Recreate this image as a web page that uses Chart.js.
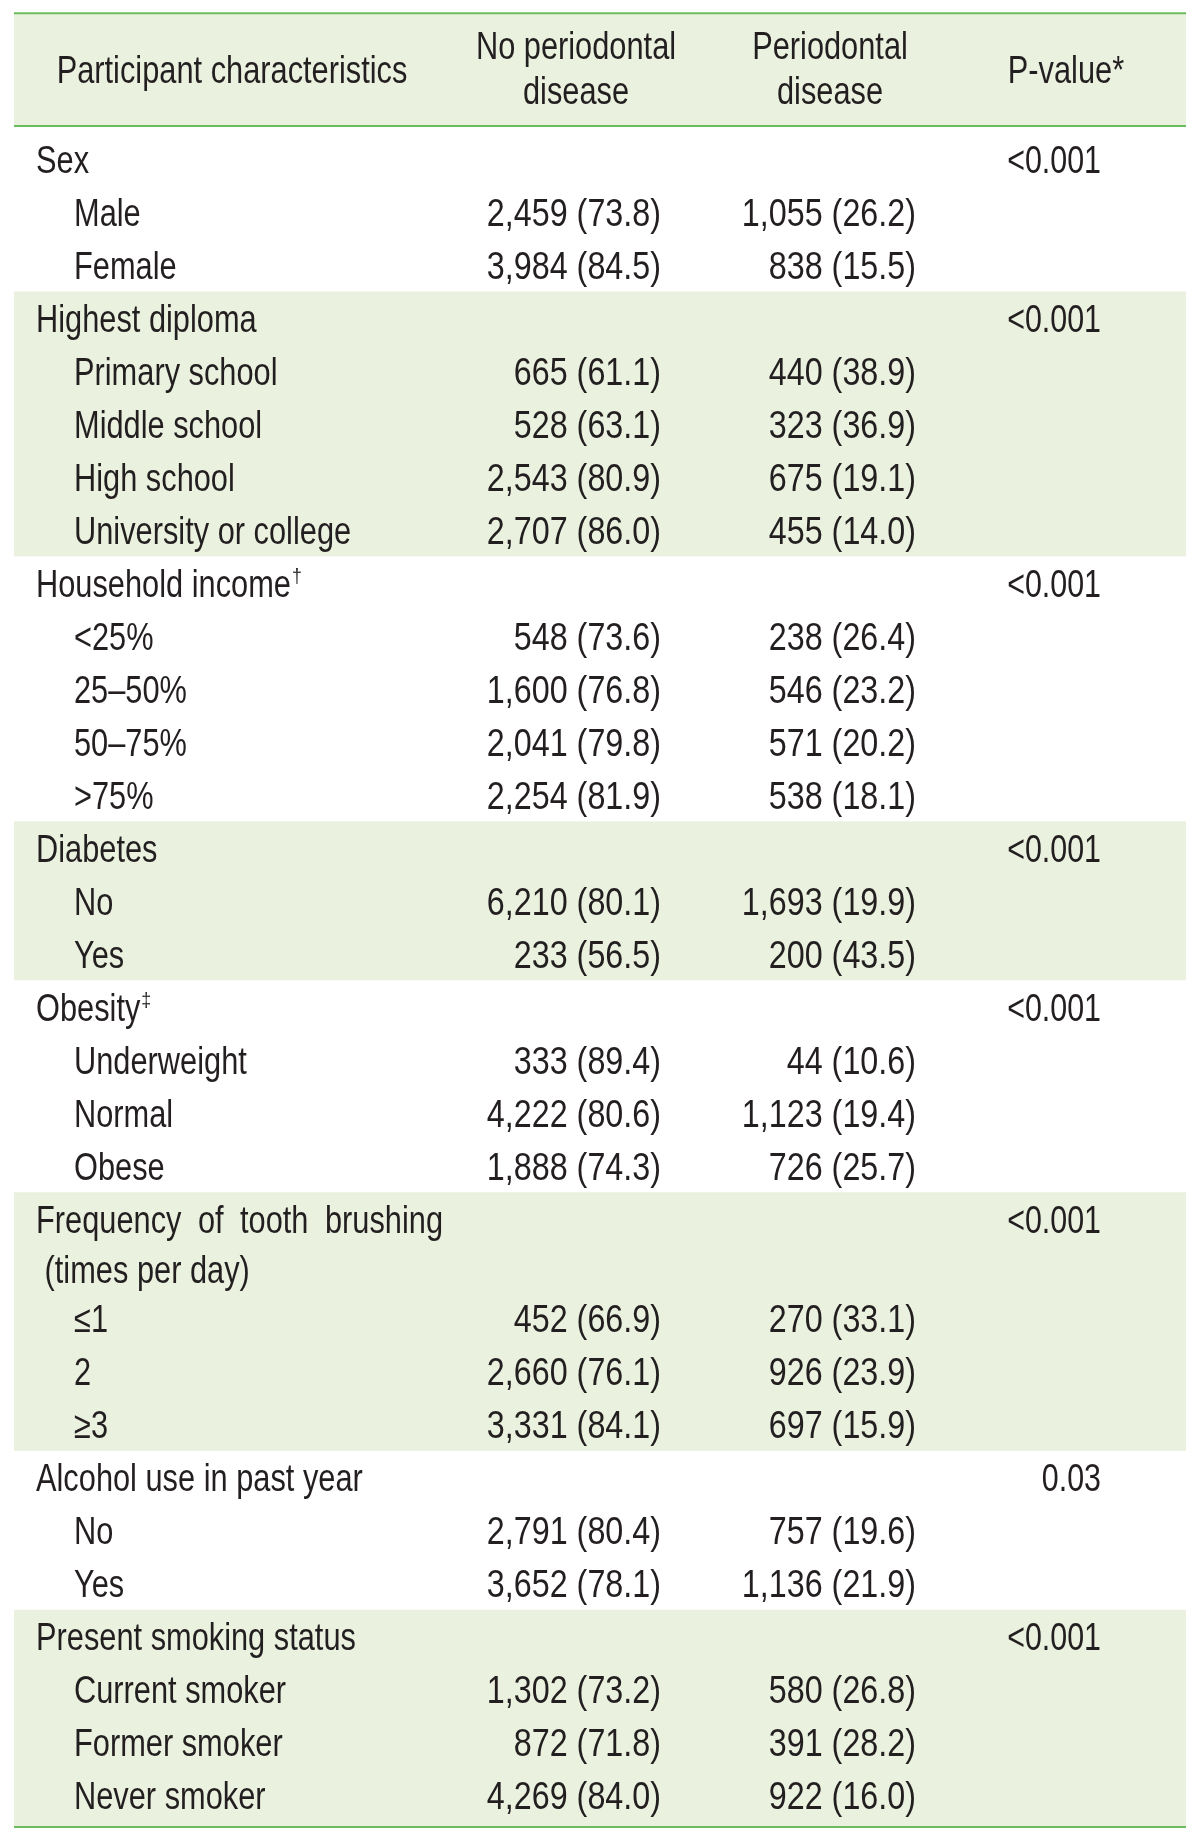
<!DOCTYPE html>
<html>
<head>
<meta charset="utf-8">
<script src="https://cdn.jsdelivr.net/npm/chart.js@4"></script>
<style>
    body { margin: 0; background: #ffffff; }
    #wrap { width: 1200px; height: 1844px; }
</style>
</head>
<body>
<div id="wrap"><canvas id="tableChart" width="1200" height="1844"></canvas></div>
<script>
const columnHeaders = [['Participant characteristics'], ['No periodontal', 'disease'], ['Periodontal', 'disease'], ['P-value*']];

const groupNames = [
    ['Sex'],
    ['Highest diploma'],
    ['Household income'],
    ['Diabetes'],
    ['Obesity'],
    ['Frequency of tooth brushing', ' (times per day)'],
    ['Alcohol use in past year'],
    ['Present smoking status']
];
const groupMarks = ['', '', '\u2020', '', '\u2021', '', '', ''];
const groupPValues = ['<0.001', '<0.001', '<0.001', '<0.001', '<0.001', '<0.001', '0.03', '<0.001'];

const subgroupNames = [
    ['Male', 'Female'],
    ['Primary school', 'Middle school', 'High school', 'University or college'],
    ['<25%', '25\u201350%', '50\u201375%', '>75%'],
    ['No', 'Yes'],
    ['Underweight', 'Normal', 'Obese'],
    ['\u22641', '2', '\u22653'],
    ['No', 'Yes'],
    ['Current smoker', 'Former smoker', 'Never smoker']
];

const noDiseaseN = [
    [2459, 3984],
    [665, 528, 2543, 2707],
    [548, 1600, 2041, 2254],
    [6210, 233],
    [333, 4222, 1888],
    [452, 2660, 3331],
    [2791, 3652],
    [1302, 872, 4269]
];
const noDiseasePct = [
    [73.8, 84.5],
    [61.1, 63.1, 80.9, 86.0],
    [73.6, 76.8, 79.8, 81.9],
    [80.1, 56.5],
    [89.4, 80.6, 74.3],
    [66.9, 76.1, 84.1],
    [80.4, 78.1],
    [73.2, 71.8, 84.0]
];
const diseaseN = [
    [1055, 838],
    [440, 323, 675, 455],
    [238, 546, 571, 538],
    [1693, 200],
    [44, 1123, 726],
    [270, 926, 697],
    [757, 1136],
    [580, 391, 922]
];
const diseasePct = [
    [26.2, 15.5],
    [38.9, 36.9, 19.1, 14.0],
    [26.4, 23.2, 20.2, 18.1],
    [19.9, 43.5],
    [10.6, 19.4, 25.7],
    [33.1, 23.9, 15.9],
    [19.6, 21.9],
    [26.8, 28.2, 16.0]
];

// layout (x in page pixels, y in row units)
const tableLeft = 14, tableRight = 1186;
const labelX = 36, subLabelX = 74, justifyWidth = 407;
const headerCenters = [232, 576, 830, 1066];
const headerLines = [-2.145, -1.31];
const headerSingle = -1.69;
const col2Right = 661, col3Right = 916, pRight = 1101;
const wrapStep = 0.94;
const textColor = '#231f20';
const bandColor = '#eaf2df';
const ruleColor = '#6cbd5b';
const fontFamily = '"Liberation Sans", Arimo, Arial, sans-serif';
const fontSize = 38;
const baselineShift = 14;
const labelSqueeze = 0.81;   // condensed look
const numberSqueeze = 0.85;
const pSqueeze = 0.8;

function fmt(n, p) {
    return n.toLocaleString('en-US') + ' (' + p.toFixed(1) + ')';
}

// work out row positions
const rows = [];
const bands = [];
let pos = 0;
groupNames.forEach(function (lines, g) {
    const start = pos;
    rows.push({ y: pos, text: lines[0], x: labelX, mark: groupMarks[g], p: groupPValues[g], justify: lines.length > 1 });
    for (let k = 1; k < lines.length; k++) {
        pos += wrapStep;
        rows.push({ y: pos, text: lines[k], x: labelX });
    }
    pos += lines.length > 1 ? wrapStep : 1;
    subgroupNames[g].forEach(function (name, i) {
        rows.push({
            y: pos, text: name, x: subLabelX,
            c2: fmt(noDiseaseN[g][i], noDiseasePct[g][i]),
            c3: fmt(diseaseN[g][i], diseasePct[g][i])
        });
        pos += 1;
    });
    bands.push({ from: start - 0.5, to: pos - 0.5, green: g % 2 === 1 });
});
const lastRow = pos - 1;
const topRule = -2.75, headRule = -0.62, bottomRule = lastRow + 0.6;
bands[0].from = headRule;
bands[bands.length - 1].to = bottomRule;

function put(ctx, text, x, y, align, sx) {
    ctx.save();
    ctx.translate(x, y);
    ctx.scale(sx, 1);
    ctx.textAlign = align;
    ctx.fillText(text, 0, 0);
    ctx.restore();
}

function putJustified(ctx, text, x, y, width) {
    const words = text.split(' ');
    let total = 0;
    words.forEach(function (w) { total += ctx.measureText(w).width * labelSqueeze; });
    const gap = (width - total) / (words.length - 1);
    let cx = x;
    words.forEach(function (w) {
        put(ctx, w, cx, y, 'left', labelSqueeze);
        cx += ctx.measureText(w).width * labelSqueeze + gap;
    });
}

const tablePlugin = {
    id: 'tablePlugin',
    beforeDatasetsDraw(chart) {
        const ctx = chart.ctx;
        const xs = chart.scales.x, ys = chart.scales.y;
        const L = xs.getPixelForValue(tableLeft), R = xs.getPixelForValue(tableRight);
        const font = fontSize + 'px ' + fontFamily;
        ctx.save();
        // header band and group bands
        ctx.fillStyle = bandColor;
        ctx.fillRect(L, ys.getPixelForValue(topRule), R - L, ys.getPixelForValue(headRule) - ys.getPixelForValue(topRule));
        bands.forEach(function (b) {
            if (!b.green) return;
            const t = ys.getPixelForValue(b.from), bt = ys.getPixelForValue(b.to);
            ctx.fillRect(L, t, R - L, bt - t);
        });
        // rules
        ctx.strokeStyle = ruleColor;
        ctx.lineWidth = 2;
        [topRule, headRule, bottomRule].forEach(function (r) {
            const y = ys.getPixelForValue(r);
            ctx.beginPath();
            ctx.moveTo(L, y);
            ctx.lineTo(R, y);
            ctx.stroke();
        });
        // header text
        ctx.fillStyle = textColor;
        ctx.font = font;
        ctx.textBaseline = 'alphabetic';
        columnHeaders.forEach(function (lines, c) {
            const cx = xs.getPixelForValue(headerCenters[c]);
            if (lines.length === 1) {
                put(ctx, lines[0], cx, ys.getPixelForValue(headerSingle) + baselineShift, 'center', labelSqueeze);
            } else {
                lines.forEach(function (t, k) {
                    put(ctx, t, cx, ys.getPixelForValue(headerLines[k]) + baselineShift, 'center', labelSqueeze);
                });
            }
        });
        // body
        rows.forEach(function (r) {
            const y = ys.getPixelForValue(r.y) + baselineShift;
            const x = xs.getPixelForValue(r.x);
            ctx.font = font;
            if (r.justify) {
                putJustified(ctx, r.text, x, y, justifyWidth);
            } else {
                put(ctx, r.text, x, y, 'left', labelSqueeze);
            }
            if (r.mark) {
                const w = ctx.measureText(r.text).width * labelSqueeze;
                ctx.font = '21px ' + fontFamily;
                put(ctx, r.mark, x + w + 1, y - 14, 'left', 0.85);
                ctx.font = font;
            }
            if (r.c2) put(ctx, r.c2, xs.getPixelForValue(col2Right), y, 'right', numberSqueeze);
            if (r.c3) put(ctx, r.c3, xs.getPixelForValue(col3Right), y, 'right', numberSqueeze);
            if (r.p) put(ctx, r.p, xs.getPixelForValue(pRight), y, 'right', pSqueeze);
        });
        ctx.restore();
    }
};

new Chart(document.querySelector('#tableChart'), {
    type: 'scatter',
    data: {
        datasets: [{
            data: rows.map(function (r) { return { x: r.x, y: r.y }; }),
            pointRadius: 0,
            showLine: false
        }]
    },
    options: {
        responsive: false,
        animation: false,
        layout: { padding: 0 },
        plugins: { legend: { display: false }, tooltip: { enabled: false } },
        scales: {
            x: { type: 'linear', display: false, min: 0, max: 1200 },
            y: { type: 'linear', display: false, reverse: true, min: -3.0, max: 31.8 }
        }
    },
    plugins: [tablePlugin]
});
</script>
</body>
</html>
